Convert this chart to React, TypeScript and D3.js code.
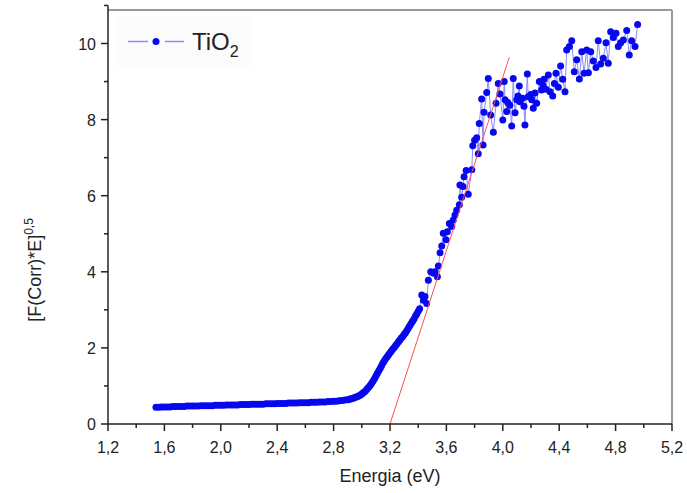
import React from "react";
import * as d3 from "d3";

// ---- data ----
const flatSegment: [number, number][] = [
  [1.54, 0.44], [1.56, 0.44], [1.58, 0.45], [1.6, 0.45], [1.62, 0.45], [1.64, 0.45], [1.66, 0.46], [1.68, 0.46],
  [1.7, 0.46], [1.72, 0.46], [1.74, 0.46], [1.76, 0.47], [1.78, 0.47], [1.8, 0.47], [1.82, 0.47], [1.84, 0.47],
  [1.86, 0.48], [1.88, 0.48], [1.9, 0.48], [1.92, 0.48], [1.94, 0.48], [1.96, 0.49], [1.98, 0.49], [2.0, 0.49],
  [2.02, 0.49], [2.04, 0.5], [2.06, 0.5], [2.08, 0.5], [2.1, 0.5], [2.12, 0.5], [2.14, 0.51], [2.16, 0.51],
  [2.18, 0.51], [2.2, 0.51], [2.22, 0.52], [2.24, 0.52], [2.26, 0.52], [2.28, 0.52], [2.3, 0.52], [2.32, 0.53],
  [2.34, 0.53], [2.36, 0.53], [2.38, 0.53], [2.4, 0.54], [2.42, 0.54], [2.44, 0.54], [2.46, 0.54], [2.48, 0.55],
  [2.5, 0.55], [2.52, 0.55], [2.54, 0.55], [2.56, 0.56], [2.58, 0.56], [2.6, 0.56], [2.62, 0.56], [2.64, 0.57],
  [2.66, 0.57], [2.68, 0.57], [2.7, 0.58], [2.72, 0.58], [2.74, 0.58], [2.76, 0.59], [2.78, 0.59], [2.8, 0.6],
  [2.82, 0.6], [2.84, 0.61], [2.86, 0.62], [2.88, 0.63], [2.9, 0.64],
];

const edgeSegment: [number, number][] = [
  [2.91, 0.65], [2.92, 0.66], [2.93, 0.67], [2.94, 0.68], [2.95, 0.695], [2.96, 0.71], [2.97, 0.725],
  [2.98, 0.74], [2.99, 0.76], [3.0, 0.79], [3.01, 0.82], [3.02, 0.85], [3.03, 0.89], [3.04, 0.93],
  [3.05, 0.97], [3.06, 1.02], [3.07, 1.07], [3.08, 1.13], [3.09, 1.19], [3.1, 1.26], [3.11, 1.33],
  [3.12, 1.4], [3.13, 1.46], [3.14, 1.53], [3.15, 1.6], [3.16, 1.66], [3.17, 1.72], [3.18, 1.77],
  [3.19, 1.82], [3.2, 1.87], [3.21, 1.92], [3.22, 1.97], [3.23, 2.01], [3.24, 2.06], [3.25, 2.11],
  [3.26, 2.16], [3.27, 2.21], [3.28, 2.26], [3.29, 2.3], [3.3, 2.35], [3.31, 2.4], [3.32, 2.46],
  [3.33, 2.52], [3.34, 2.58], [3.35, 2.64], [3.36, 2.7], [3.37, 2.76], [3.38, 2.83], [3.39, 2.89],
  [3.4, 2.96], [3.41, 3.03],
];

const noisySegment: [number, number][] = [
  [3.425, 3.39], [3.437, 3.25], [3.448, 3.35], [3.46, 3.17], [3.472, 3.78], [3.489, 4.0], [3.508, 3.96],
  [3.519, 4.0], [3.536, 3.87], [3.543, 4.15], [3.555, 4.5], [3.567, 4.68], [3.578, 5.01], [3.597, 4.84],
  [3.607, 5.05], [3.621, 5.27], [3.638, 5.19], [3.649, 5.36], [3.661, 5.49], [3.673, 5.62], [3.692, 5.76],
  [3.696, 6.28], [3.708, 5.96], [3.718, 6.24], [3.725, 6.5], [3.74, 6.66], [3.755, 6.04], [3.78, 6.68],
  [3.787, 7.31], [3.8, 7.46], [3.815, 7.52], [3.826, 7.1], [3.833, 7.9], [3.85, 8.54], [3.86, 7.33],
  [3.867, 8.19], [3.886, 8.71], [3.897, 9.08], [3.914, 8.12], [3.933, 7.67], [3.952, 8.43], [3.968, 8.95],
  [3.98, 8.67], [4.0, 7.99], [4.01, 9.0], [4.016, 8.52], [4.028, 8.21], [4.035, 8.45], [4.05, 8.38],
  [4.063, 7.83], [4.074, 9.08], [4.087, 8.18], [4.099, 8.52], [4.108, 8.62], [4.117, 8.88], [4.122, 8.47],
  [4.14, 8.56], [4.15, 8.35], [4.157, 7.86], [4.174, 9.2], [4.18, 8.6], [4.198, 8.66], [4.205, 8.52],
  [4.216, 8.3], [4.228, 8.7], [4.24, 8.43], [4.259, 9.0], [4.275, 8.78], [4.285, 8.9], [4.292, 9.06],
  [4.306, 8.8], [4.323, 9.17], [4.335, 8.73], [4.354, 8.62], [4.366, 8.95], [4.377, 9.22], [4.394, 8.85],
  [4.41, 9.41], [4.425, 9.06], [4.441, 8.73], [4.453, 9.83], [4.472, 9.92], [4.489, 10.07], [4.507, 9.26],
  [4.524, 9.57], [4.543, 9.07], [4.56, 9.78], [4.576, 9.22], [4.595, 9.83], [4.607, 9.23], [4.624, 9.78],
  [4.642, 9.54], [4.661, 9.37], [4.677, 10.07], [4.694, 9.46], [4.713, 9.61], [4.732, 10.02], [4.748, 9.48],
  [4.765, 10.31], [4.784, 10.16], [4.803, 10.27], [4.819, 9.92], [4.836, 10.02], [4.855, 10.09],
  [4.879, 10.34], [4.897, 9.7], [4.914, 10.07], [4.938, 9.92], [4.956, 10.5],
];

const fitLine: [number, number][] = [[3.2, 0], [4.046, 9.64]];

const xMajorTicks = [1.2, 1.6, 2.0, 2.4, 2.8, 3.2, 3.6, 4.0, 4.4, 4.8, 5.2];
const xMinorTicks = [1.4, 1.8, 2.2, 2.6, 3.0, 3.4, 3.8, 4.2, 4.6, 5.0];
const yMajorTicks = [0, 2, 4, 6, 8, 10];
const yMinorTicks = [1, 3, 5, 7, 9, 11];

const seriesName = "TiO";
const seriesSub = "2";
const xTitle = "Energia (eV)";
const yTitle = "[F(Corr)*E]";
const yTitleSup = "0,5";

const W = 687;
const H = 493;
const FONT = "'Liberation Sans', Arial, sans-serif";

export default function App() {
  const x = d3.scaleLinear().domain([1.2, 5.2]).range([108, 672]);
  const y = d3.scaleLinear().domain([0, 10]).range([424, 43.5]);
  const data = [...flatSegment, ...edgeSegment, ...noisySegment];
  const line = d3
    .line<[number, number]>()
    .x((d) => x(d[0]))
    .y((d) => y(d[1]));
  const fmt = (v: number) => d3.format(".1f")(v).replace(".", ",");
  const x0 = x(1.2);
  const x1 = x(5.2);
  const yb = y(0);
  const yTop = 10;

  return (
    <svg
      width={W}
      height={H}
      style={{ position: "absolute", left: 0, top: 0, background: "#fff" }}
      fontFamily={FONT}
    >
      <rect x={0} y={0} width={W} height={H} fill="#fff" />
      {/* frame top/right */}
      <line x1={x0} x2={x1} y1={yTop} y2={yTop} stroke="#9a9a9a" strokeWidth={2} />
      <line x1={x1} x2={x1} y1={yTop} y2={yb} stroke="#9a9a9a" strokeWidth={2} />

      {/* legend background */}
      <rect x={116} y={16} width={136} height={52} rx={6} fill="#fbfbfb" />

      {/* data line and points */}
      <path d={line(data) || ""} fill="none" stroke="#8a8aff" strokeWidth={1} />
      {data.map((d, i) => (
        <circle key={i} cx={x(d[0])} cy={y(d[1])} r={3.5} fill="#0808ee" />
      ))}

      {/* fit line */}
      <path d={line(fitLine) || ""} fill="none" stroke="#ff5050" strokeWidth={1} />

      {/* axes */}
      <line x1={x0} x2={x1} y1={yb} y2={yb} stroke="#222" strokeWidth={1.5} />
      <line x1={x0} x2={x0} y1={y(11)} y2={yb} stroke="#222" strokeWidth={1.5} />
      {xMajorTicks.map((t) => (
        <g key={"xm" + t}>
          <line x1={x(t)} x2={x(t)} y1={yb} y2={yb + 7} stroke="#222" strokeWidth={1.5} />
          <text x={x(t)} y={yb + 29} textAnchor="middle" fontSize={16} fill="#222">
            {fmt(t)}
          </text>
        </g>
      ))}
      {xMinorTicks.map((t) => (
        <line key={"xn" + t} x1={x(t)} x2={x(t)} y1={yb} y2={yb + 4} stroke="#222" strokeWidth={1.5} />
      ))}
      {yMajorTicks.map((t) => (
        <g key={"ym" + t}>
          <line x1={x0 - 7} x2={x0} y1={y(t)} y2={y(t)} stroke="#222" strokeWidth={1.5} />
          <text x={x0 - 12} y={y(t) + 6} textAnchor="end" fontSize={16} fill="#222">
            {t}
          </text>
        </g>
      ))}
      {yMinorTicks.map((t) => (
        <line key={"yn" + t} x1={x0 - 4} x2={x0} y1={y(t)} y2={y(t)} stroke="#222" strokeWidth={1.5} />
      ))}

      {/* titles */}
      <text x={(x0 + x1) / 2} y={482} textAnchor="middle" fontSize={18} fill="#222">
        {xTitle}
      </text>
      <text transform="translate(41,270) rotate(-90)" textAnchor="middle" fontSize={18} fill="#222">
        {yTitle}
        <tspan dy={-8} fontSize={12}>
          {yTitleSup}
        </tspan>
      </text>

      {/* legend */}
      <line x1={128} x2={148} y1={41.5} y2={41.5} stroke="#8a8aff" strokeWidth={1.5} />
      <line x1={165} x2={184} y1={41.5} y2={41.5} stroke="#8a8aff" strokeWidth={1.5} />
      <circle cx={156} cy={41.5} r={3.5} fill="#0808ee" />
      <text x={192} y={50} fontSize={24} fill="#222">
        {seriesName}
        <tspan dy={7} fontSize={16}>
          {seriesSub}
        </tspan>
      </text>
    </svg>
  );
}
